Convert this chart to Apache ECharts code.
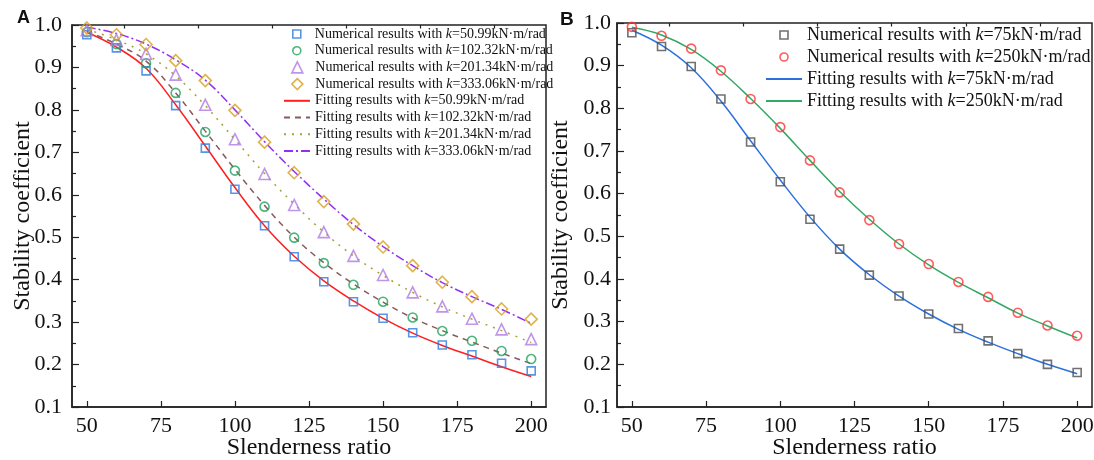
<!DOCTYPE html>
<html>
<head>
<meta charset="utf-8">
<script src="https://cdn.jsdelivr.net/npm/echarts@6/dist/echarts.min.js"></script>
<style>html,body{margin:0;padding:0;background:#fff}#c{width:1094px;height:460px}</style>
</head>
<body>
<div id="c"></div>
<script>
// ---------- data ----------
var slenderness = [50, 60, 70, 80, 90, 100, 110, 120, 130, 140, 150, 160, 170, 180, 190, 200];
var xMajorTicks = [50, 75, 100, 125, 150, 175, 200];
var xMinorTicks = [62.5, 87.5, 112.5, 137.5, 162.5, 187.5];

// Panel A – numerical results
var numA_50 = [0.977, 0.946, 0.892, 0.810, 0.710, 0.613, 0.527, 0.454, 0.395, 0.348, 0.309, 0.275, 0.246, 0.223, 0.203, 0.185];
var numA_102 = [0.983, 0.955, 0.910, 0.840, 0.748, 0.657, 0.572, 0.499, 0.439, 0.388, 0.348, 0.311, 0.279, 0.256, 0.232, 0.213];
var numA_201 = [0.988, 0.965, 0.932, 0.883, 0.812, 0.731, 0.649, 0.576, 0.512, 0.456, 0.411, 0.370, 0.337, 0.308, 0.283, 0.260];
var numA_333 = [0.993, 0.977, 0.954, 0.916, 0.869, 0.799, 0.724, 0.652, 0.584, 0.531, 0.477, 0.433, 0.394, 0.360, 0.331, 0.307];
// Panel A – fitting results
var fitA_50 = [0.983, 0.948, 0.898, 0.812, 0.715, 0.617, 0.527, 0.455, 0.397, 0.350, 0.309, 0.274, 0.245, 0.220, 0.195, 0.172];
var fitA_102 = [0.985, 0.955, 0.915, 0.840, 0.750, 0.660, 0.575, 0.500, 0.440, 0.390, 0.347, 0.310, 0.280, 0.253, 0.227, 0.202];
var fitA_201 = [0.990, 0.965, 0.932, 0.880, 0.810, 0.730, 0.650, 0.578, 0.512, 0.456, 0.410, 0.370, 0.336, 0.307, 0.280, 0.252];
var fitA_333 = [0.995, 0.980, 0.955, 0.918, 0.870, 0.800, 0.725, 0.655, 0.590, 0.530, 0.478, 0.433, 0.393, 0.360, 0.330, 0.297];

// Panel B
var numB_75 = [0.977, 0.945, 0.898, 0.822, 0.721, 0.628, 0.540, 0.470, 0.409, 0.360, 0.318, 0.284, 0.255, 0.225, 0.200, 0.181];
var numB_250 = [0.991, 0.970, 0.940, 0.889, 0.822, 0.756, 0.678, 0.603, 0.538, 0.482, 0.435, 0.393, 0.358, 0.321, 0.291, 0.267];
var fitB_75 = [0.983, 0.948, 0.895, 0.817, 0.724, 0.632, 0.545, 0.470, 0.410, 0.360, 0.318, 0.282, 0.252, 0.225, 0.200, 0.178];
var fitB_250 = [0.990, 0.972, 0.938, 0.887, 0.823, 0.753, 0.678, 0.605, 0.540, 0.482, 0.433, 0.392, 0.356, 0.320, 0.290, 0.262];

var namesA = [
  'Numerical results with k=50.99kN·m/rad',
  'Numerical results with k=102.32kN·m/rad',
  'Numerical results with k=201.34kN·m/rad',
  'Numerical results with k=333.06kN·m/rad',
  'Fitting results with k=50.99kN·m/rad',
  'Fitting results with k=102.32kN·m/rad',
  'Fitting results with k=201.34kN·m/rad',
  'Fitting results with k=333.06kN·m/rad'
];
var namesB = [
  'Numerical results with k=75kN·m/rad',
  'Numerical results with k=250kN·m/rad',
  'Fitting results with k=75kN·m/rad',
  'Fitting results with k=250kN·m/rad'
];

// ---------- chart ----------
var SERIF = "'Liberation Serif','Times New Roman',serif";
var ICON = {
  rect: 'path://M0,0L10,0L10,10L0,10Z',
  circle: 'path://M5,0A5,5,0,1,1,5,10A5,5,0,1,1,5,0Z',
  triangle: 'path://M5,0L10,10L0,10Z',
  diamond: 'path://M5,0L10,5L5,10L0,5Z'
};
function pairs(ys) { return slenderness.map(function (x, i) { return [x, ys[i]]; }); }
function legendFmt(name) {
  var i = name.indexOf('k=');
  return '{n|' + name.slice(0, i) + '}{i|k}{n|' + name.slice(i + 1) + '}';
}
function richFor(size) {
  return {
    n: { fontFamily: SERIF, fontSize: size, color: '#111' },
    i: { fontFamily: SERIF, fontSize: size, fontStyle: 'italic', color: '#111' }
  };
}
function scatterItem(name, icon) { return { name: name, icon: ICON[icon] }; }
function lineItem(name) { return { name: name, itemStyle: { opacity: 0 } }; }

function xAxesFor(gridIndex) {
  return [{
    type: 'value', gridIndex: gridIndex, min: 45, max: 205,
    axisLine: { show: true, onZero: false, lineStyle: { color: '#222', width: 1.5 } },
    axisTick: { show: true, inside: true, length: 6, customValues: xMajorTicks, lineStyle: { color: '#222', width: 1.2 } },
    axisLabel: { show: true, customValues: xMajorTicks, margin: 8, fontFamily: SERIF, fontSize: 22, color: '#111' },
    splitLine: { show: false },
    name: 'Slenderness ratio', nameLocation: 'middle', nameGap: 29, nameMoveOverlap: false,
    nameTextStyle: { fontFamily: SERIF, fontSize: 24, color: '#111' }
  }, {
    type: 'value', gridIndex: gridIndex, min: 45, max: 205,
    axisLine: { show: false },
    axisTick: { show: true, inside: true, length: 3.5, customValues: xMinorTicks, lineStyle: { color: '#222', width: 1.2 } },
    axisLabel: { show: false },
    splitLine: { show: false }
  }];
}
function yAxisFor(gridIndex, margin, gap) {
  return {
    type: 'value', gridIndex: gridIndex, min: 0.1, max: 1.0, interval: 0.1,
    axisLine: { show: true, onZero: false, lineStyle: { color: '#222', width: 1.5 } },
    axisTick: { show: true, inside: true, length: 7, lineStyle: { color: '#222', width: 1.2 } },
    minorTick: { show: true, splitNumber: 2, length: 4, lineStyle: { color: '#222', width: 1.2 } },
    axisLabel: { margin: margin, fontFamily: SERIF, fontSize: 22, color: '#111',
      formatter: function (v) { return v.toFixed(1); } },
    splitLine: { show: false },
    name: 'Stability coefficient', nameLocation: 'middle', nameGap: gap, nameMoveOverlap: false,
    nameTextStyle: { fontFamily: SERIF, fontSize: 24, color: '#111' }
  };
}

function scatter(name, data, xi, yi, symbol, size, color) {
  return {
    type: 'scatter', name: name, xAxisIndex: xi, yAxisIndex: yi, data: pairs(data),
    symbol: symbol, symbolSize: size, z: 3,
    itemStyle: { color: 'rgba(255,255,255,0)', borderColor: color, borderWidth: 1.6 }
  };
}
function line(name, data, xi, yi, color, type) {
  return {
    type: 'line', name: name, xAxisIndex: xi, yAxisIndex: yi, data: pairs(data),
    smooth: 0.4, showSymbol: false, symbol: 'none', z: 2,
    itemStyle: { color: color },
    lineStyle: { color: color, width: 1.5, type: type }
  };
}

var cA = { sq: '#2f7be0', ci: '#1fa35c', tr: '#b07ae3', di: '#d6a01e',
  red: '#ff1f1f', brown: '#8a5a5a', olive: '#a3a22e', violet: '#9430f5' };
var cB = { sq: '#4d4d4d', ci: '#ff3535', blue: '#2c70de', green: '#35a866' };

function legendBase(extra) {
  var o = {
    orient: 'vertical', padding: 0, formatter: legendFmt,
    itemStyle: { borderWidth: 1.6 },
    textStyle: { fontFamily: SERIF, fontSize: 14, color: '#111', rich: richFor(14) }
  };
  for (var k in extra) o[k] = extra[k];
  return o;
}

var option = {
  backgroundColor: '#fff',
  animation: false,
  grid: [
    { left: 72, top: 25, width: 474, height: 382, outerBoundsMode: 'none', containLabel: false,
      show: true, borderColor: '#222', borderWidth: 1.5, backgroundColor: 'transparent' },
    { left: 617, top: 23, width: 475, height: 384, outerBoundsMode: 'none', containLabel: false,
      show: true, borderColor: '#222', borderWidth: 1.5, backgroundColor: 'transparent' }
  ],
  xAxis: xAxesFor(0).concat(xAxesFor(1)),
  yAxis: [yAxisFor(0, 10, 37), yAxisFor(1, 6, 44)],
  legend: [
    legendBase({ data: [scatterItem(namesA[0], 'rect'), scatterItem(namesA[1], 'circle')],
      left: 292, top: 27, itemWidth: 26, itemHeight: 8, itemGap: 2.7 }),
    legendBase({ data: [scatterItem(namesA[2], 'triangle'), scatterItem(namesA[3], 'diamond')],
      left: 291, top: 60.4, itemWidth: 26, itemHeight: 11, itemGap: 2.7 }),
    legendBase({ data: [lineItem(namesA[4]), lineItem(namesA[5]), lineItem(namesA[6]), lineItem(namesA[7])],
      left: 283, top: 93.8, itemWidth: 26, itemHeight: 11, itemGap: 2.7 }),
    {
      data: [scatterItem(namesB[0], 'rect'), scatterItem(namesB[1], 'circle'), lineItem(namesB[2]), lineItem(namesB[3])],
      orient: 'vertical', padding: 0, left: 765, top: 26,
      itemWidth: 36, itemHeight: 8, itemGap: 4, itemTextGap: 7,
      itemStyle: { borderWidth: 1.6 },
      formatter: legendFmt,
      textStyle: { fontFamily: SERIF, fontSize: 18, color: '#111', rich: richFor(18) }
    }
  ],
  graphic: [
    { type: 'text', left: 17, top: 9, style: { text: 'A', font: "bold 18px 'Liberation Sans', Arial, sans-serif", fill: '#111' } },
    { type: 'text', left: 560, top: 10, style: { text: 'B', font: "bold 19px 'Liberation Sans', Arial, sans-serif", fill: '#111' } }
  ],
  series: [
    scatter(namesA[0], numA_50, 0, 0, 'rect', 8, cA.sq),
    scatter(namesA[1], numA_102, 0, 0, 'circle', 9, cA.ci),
    scatter(namesA[2], numA_201, 0, 0, 'triangle', 11, cA.tr),
    scatter(namesA[3], numA_333, 0, 0, 'diamond', 12, cA.di),
    line(namesA[4], fitA_50, 0, 0, cA.red, 'solid'),
    line(namesA[5], fitA_102, 0, 0, cA.brown, [6, 5]),
    line(namesA[6], fitA_201, 0, 0, cA.olive, [2, 6]),
    line(namesA[7], fitA_333, 0, 0, cA.violet, [9, 3, 2, 3]),
    scatter(namesB[0], numB_75, 2, 1, 'rect', 8, cB.sq),
    scatter(namesB[1], numB_250, 2, 1, 'circle', 9, cB.ci),
    line(namesB[2], fitB_75, 2, 1, cB.blue, 'solid'),
    line(namesB[3], fitB_250, 2, 1, cB.green, 'solid')
  ]
};

var chart = echarts.init(document.getElementById('c'), null, { renderer: 'canvas' });
chart.setOption(option);
</script>
</body>
</html>
